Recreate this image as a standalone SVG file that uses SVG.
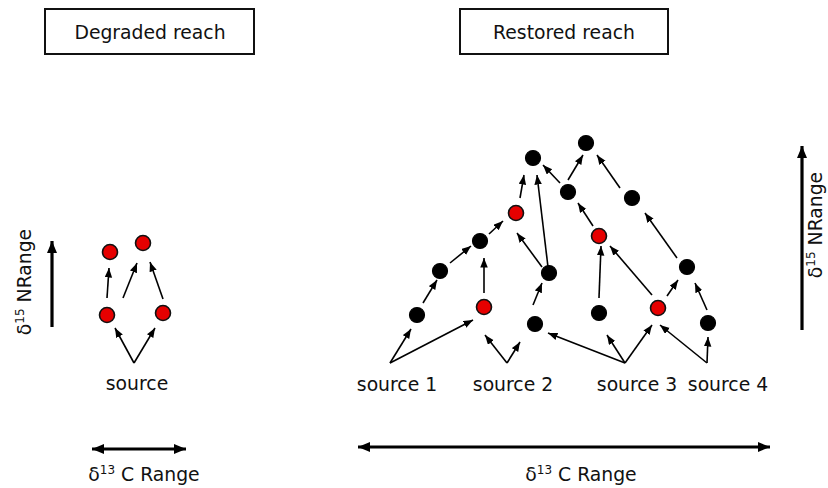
<svg xmlns="http://www.w3.org/2000/svg" width="828" height="488" viewBox="0 0 828 488">
<style>
text{font-family:"DejaVu Sans","Verdana",sans-serif;font-size:18.8px;fill:#111}
.box{fill:#fff;stroke:#111;stroke-width:2}
.n{fill:#000;stroke:#000;stroke-width:1.2}
.r{fill:#e60000;stroke:#111;stroke-width:1.6}
.e{stroke:#000;stroke-width:1.6;fill:none;marker-end:url(#ah)}
.ax{stroke:#000;stroke-width:3.2;fill:none}
</style>
<defs>
<marker id="ah" markerUnits="userSpaceOnUse" markerWidth="11" markerHeight="9" refX="9.5" refY="3.75" orient="auto">
<path d="M0,0 L9.5,3.75 L0,7.5 z" fill="#000"/>
</marker>
<marker id="big" markerUnits="userSpaceOnUse" markerWidth="14" markerHeight="12" refX="12" refY="5" orient="auto-start-reverse">
<path d="M0,0 L12,5 L0,10 z" fill="#000"/>
</marker>
</defs>

<g id="title-degraded"><rect class="box" x="45" y="9" width="209" height="45"/><text x="150" y="39" text-anchor="middle">Degraded reach</text></g>
<g id="title-restored"><rect class="box" x="460" y="9" width="208" height="45"/><text x="564" y="39" text-anchor="middle">Restored reach</text></g>

<g id="axes">
<line class="ax" x1="52" y1="327" x2="52" y2="241" marker-end="url(#big)"/>
<text transform="translate(31,282) rotate(-90)" text-anchor="middle">δ<tspan font-size="12" dy="-7">15</tspan><tspan dy="7"> NRange</tspan></text>
<line class="ax" x1="802" y1="330" x2="802" y2="146" marker-end="url(#big)"/>
<text transform="translate(822,225) rotate(-90)" text-anchor="middle">δ<tspan font-size="12" dy="-7">15</tspan><tspan dy="7"> NRange</tspan></text>
<line class="ax" x1="92" y1="449" x2="186" y2="449" marker-start="url(#big)" marker-end="url(#big)"/>
<text x="144" y="481" text-anchor="middle">δ<tspan font-size="12" dy="-7">13</tspan><tspan dy="7"> C Range</tspan></text>
<line class="ax" x1="358" y1="447" x2="770" y2="447" marker-start="url(#big)" marker-end="url(#big)"/>
<text x="581" y="481" text-anchor="middle">δ<tspan font-size="12" dy="-7">13</tspan><tspan dy="7"> C Range</tspan></text>
</g>

<g id="connectors">
<!-- degraded -->
<line class="e" x1="134" y1="363" x2="115" y2="328"/>
<line class="e" x1="134" y1="363" x2="155" y2="328"/>
<line class="e" x1="107" y1="298" x2="109" y2="268"/>
<line class="e" x1="123" y1="298" x2="137" y2="263"/>
<line class="e" x1="163" y1="299" x2="150" y2="262"/>
<!-- restored -->
<line class="e" x1="390" y1="363" x2="411" y2="329"/>
<line class="e" x1="390" y1="363" x2="473" y2="320"/>
<line class="e" x1="423" y1="303" x2="437" y2="280"/>
<line class="e" x1="450" y1="263" x2="471" y2="246"/>
<line class="e" x1="489" y1="234" x2="503" y2="221"/>
<line class="e" x1="520" y1="198" x2="524" y2="175"/>
<line class="e" x1="484" y1="293" x2="484" y2="258"/>
<line class="e" x1="507" y1="363" x2="485" y2="335"/>
<line class="e" x1="507" y1="363" x2="520" y2="342"/>
<line class="e" x1="533" y1="305" x2="542" y2="283"/>
<line class="e" x1="542" y1="267" x2="517" y2="233"/>
<line class="e" x1="548" y1="267" x2="537" y2="175"/>
<line class="e" x1="560" y1="183" x2="543" y2="165"/>
<line class="e" x1="568" y1="180" x2="583" y2="155"/>
<line class="e" x1="620" y1="188" x2="597" y2="155"/>
<line class="e" x1="593" y1="226" x2="578" y2="203"/>
<line class="e" x1="677" y1="258" x2="645" y2="213"/>
<line class="e" x1="599" y1="298" x2="601" y2="246"/>
<line class="e" x1="652" y1="295" x2="610" y2="246"/>
<line class="e" x1="667" y1="296" x2="678" y2="280"/>
<line class="e" x1="707" y1="310" x2="695" y2="283"/>
<line class="e" x1="625" y1="363" x2="548" y2="333"/>
<line class="e" x1="625" y1="363" x2="607" y2="335"/>
<line class="e" x1="625" y1="363" x2="652" y2="325"/>
<line class="e" x1="707" y1="363" x2="660" y2="325"/>
<line class="e" x1="707" y1="363" x2="708" y2="337"/>
</g>

<g id="degraded-nodes">
<circle id="d-tl" class="r" cx="110" cy="252" r="7.5"/>
<circle id="d-tr" class="r" cx="143" cy="243" r="7.5"/>
<circle id="d-bl" class="r" cx="107" cy="315" r="7.5"/>
<circle id="d-br" class="r" cx="163" cy="313" r="7.5"/>
<g id="d-source"><text x="137" y="390" text-anchor="middle">source</text></g>
</g>

<g id="restored-nodes">
<circle id="a1" class="n" cx="417" cy="315" r="7.5"/>
<circle id="a2" class="n" cx="440" cy="271" r="7.5"/>
<circle id="a3" class="n" cx="480" cy="241" r="7.5"/>
<circle id="a4" class="r" cx="516" cy="213" r="7.5"/>
<circle id="a5" class="n" cx="533" cy="158" r="7.5"/>
<circle id="b1" class="r" cx="484" cy="307" r="7.5"/>
<circle id="c1" class="n" cx="535" cy="324" r="7.5"/>
<circle id="c2" class="n" cx="549" cy="273" r="7.5"/>
<circle id="d" class="n" cx="568" cy="192" r="7.5"/>
<circle id="e" class="n" cx="586" cy="143" r="7.5"/>
<circle id="f" class="n" cx="632" cy="198" r="7.5"/>
<circle id="g" class="r" cx="599" cy="236" r="7.5"/>
<circle id="h" class="n" cx="687" cy="267" r="7.5"/>
<circle id="i" class="n" cx="599" cy="313" r="7.5"/>
<circle id="j" class="r" cx="658" cy="308" r="7.5"/>
<circle id="k" class="n" cx="708" cy="323" r="7.5"/>
<g id="src1"><text x="397" y="391" text-anchor="middle">source 1</text></g>
<g id="src2"><text x="513" y="391" text-anchor="middle">source 2</text></g>
<g id="src3"><text x="637" y="391" text-anchor="middle">source 3</text></g>
<g id="src4"><text x="728" y="391" text-anchor="middle">source 4</text></g>
</g>
</svg>
